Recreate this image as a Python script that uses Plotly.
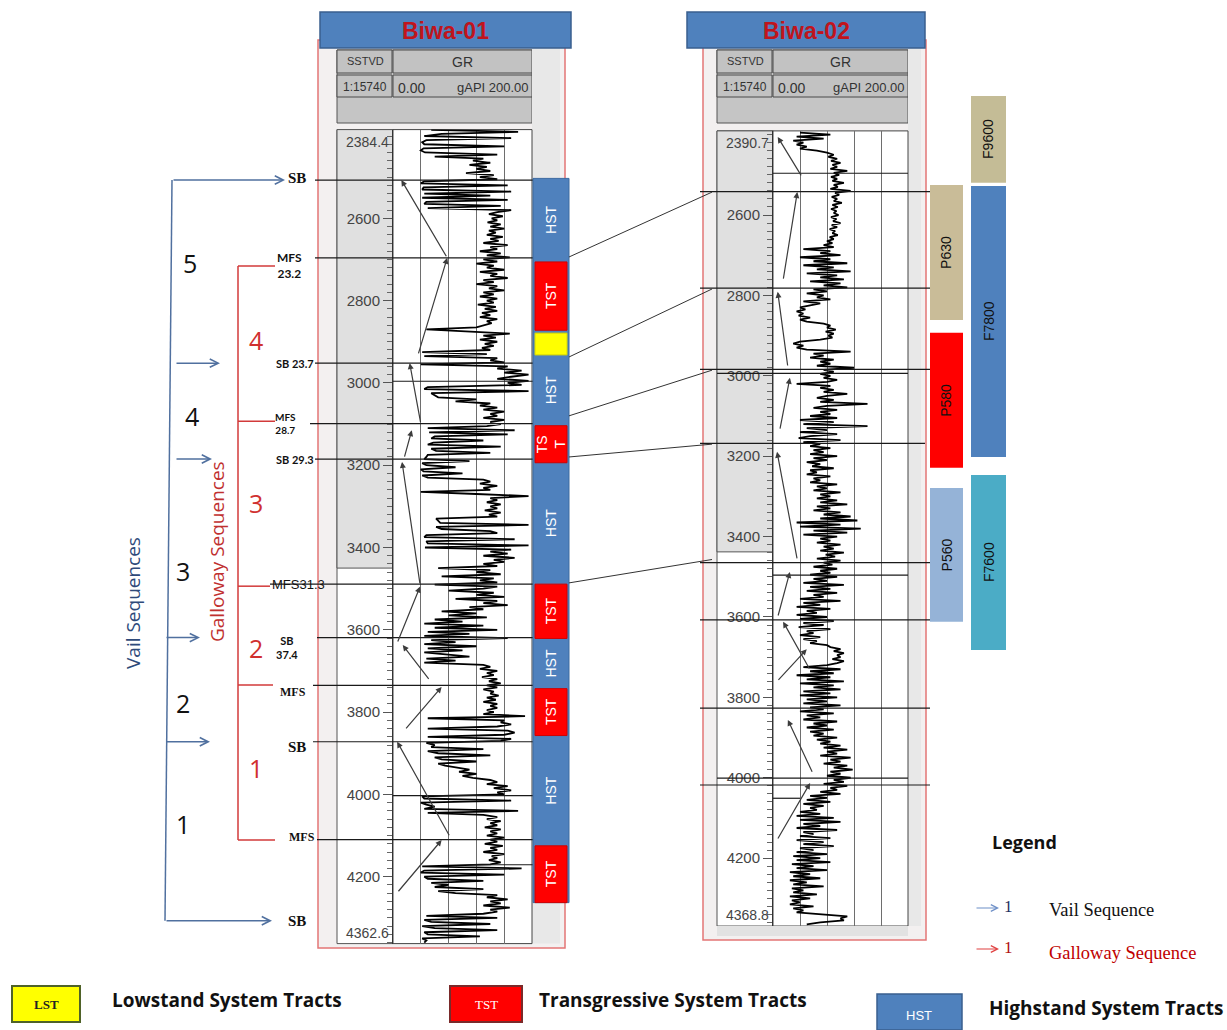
import plotly.graph_objects as go

W, H = 1227, 1030

# ---------------- data ----------------
w1_top, w1_base = 2384.4, 4362.6
w2_top, w2_base = 2390.7, 4368.8
depth_ticks = [2600, 2800, 3000, 3200, 3400, 3600, 3800, 4000, 4200]
minor_ticks = list(range(2400, 4361, 20))

gr1_depth = list(range(2385, 4361, 5))
gr1 = [55, 180, 70, 45, 170, 48, 42, 45, 160, 44, 40, 46, 150, 60, 130, 115, 140, 110, 135, 120,
       140, 105, 145, 125, 150, 45, 40, 165, 44, 42, 170, 45, 140, 42, 165, 48, 45, 155, 50, 170,
       150, 138, 158, 142, 150, 136, 155, 140, 160, 138, 148, 135, 158, 140, 152, 130, 165, 140, 150, 125,
       155, 135, 168, 130, 150, 120, 145, 135, 160, 125, 150, 140, 165, 130, 145, 120, 150, 138, 160, 130,
       145, 125, 150, 135, 145, 122, 148, 132, 150, 128, 140, 125, 150, 135, 142, 130, 120, 48, 100, 168,
       130, 148, 125, 150, 132, 145, 128, 140, 42, 135, 45, 150, 140, 160, 40, 165, 150, 185, 160, 195,
       170, 150, 195, 165, 185, 50, 45, 195, 55, 60, 65, 120, 90, 140, 125, 150, 130, 160, 140, 150,
       130, 160, 140, 155, 135, 50, 175, 52, 165, 60, 55, 130, 58, 50, 155, 55, 62, 140, 50, 48,
       45, 110, 42, 48, 90, 40, 44, 100, 42, 50, 130, 140, 125, 150, 130, 140, 40, 120, 195, 140,
       150, 135, 155, 140, 150, 132, 155, 138, 150, 62, 65, 68, 195, 62, 70, 140, 150, 48, 45, 175,
       48, 50, 195, 46, 170, 140, 165, 130, 175, 145, 160, 130, 150, 65, 140, 120, 155, 70, 145, 125,
       150, 60, 150, 130, 80, 145, 120, 160, 90, 150, 130, 165, 110, 130, 70, 120, 80, 135, 60, 100,
       45, 130, 60, 150, 50, 110, 45, 165, 55, 90, 45, 120, 50, 100, 45, 80, 110, 48, 90, 45,
       130, 140, 125, 150, 135, 145, 128, 150, 138, 155, 135, 150, 130, 145, 140, 152, 135, 148, 130, 150,
       140, 150, 135, 145, 130, 190, 50, 160, 155, 170, 150, 50, 165, 175, 160, 50, 170, 155, 48, 60,
       55, 130, 50, 65, 140, 60, 70, 120, 65, 75, 90, 110, 95, 120, 100, 115, 140, 150, 135, 165,
       145, 170, 150, 160, 42, 45, 170, 40, 48, 60, 45, 180, 50, 130, 150, 135, 155, 140, 150, 132,
       155, 140, 150, 135, 160, 140, 150, 132, 158, 140, 150, 130, 160, 142, 150, 138, 155, 140, 42, 185,
       45, 40, 160, 45, 50, 130, 55, 80, 60, 130, 65, 90, 150, 135, 165, 140, 155, 130, 168, 140,
       150, 130, 48, 150, 45, 55, 140, 42, 60, 150, 45, 50, 125, 42, 48, 45]

gr2_depth = list(range(2395, 4366, 5))
gr2 = [40, 85, 35, 75, 30, 45, 35, 50, 40, 65, 80, 90, 82, 95, 86, 100, 88, 95, 85, 110,
       90, 98, 86, 95, 88, 105, 90, 96, 85, 115, 92, 98, 87, 95, 90, 102, 88, 96, 86, 94,
       90, 97, 86, 94, 89, 100, 87, 95, 84, 92, 88, 96, 84, 90, 80, 88, 75, 90, 45, 85,
       70, 100, 40, 85, 60, 110, 45, 90, 65, 115, 50, 95, 70, 105, 55, 100, 75, 110, 60, 80,
       50, 75, 65, 85, 45, 70, 55, 40, 48, 35, 45, 38, 55, 40, 50, 75, 85, 80, 93, 78,
       90, 82, 88, 70, 40, 30, 45, 35, 50, 115, 60, 75, 55, 90, 70, 85, 65, 120, 75, 90,
       70, 85, 75, 95, 80, 35, 85, 70, 90, 75, 110, 80, 65, 90, 70, 140, 80, 60, 95, 70,
       85, 55, 95, 40, 90, 45, 140, 50, 80, 40, 95, 55, 38, 100, 45, 70, 55, 85, 60, 75,
       55, 95, 60, 80, 50, 70, 58, 90, 55, 65, 50, 85, 60, 70, 55, 95, 65, 80, 60, 100,
       70, 85, 65, 95, 70, 110, 65, 85, 60, 100, 75, 115, 70, 125, 35, 100, 40, 130, 60, 110,
       45, 95, 70, 85, 65, 100, 75, 90, 70, 105, 78, 92, 65, 100, 75, 88, 60, 95, 70, 85,
       55, 95, 60, 80, 45, 105, 55, 85, 50, 95, 60, 75, 40, 100, 45, 70, 35, 85, 50, 65,
       35, 80, 40, 90, 45, 75, 38, 85, 50, 60, 40, 70, 45, 65, 55, 80, 85, 100, 90, 105,
       95, 100, 88, 105, 95, 80, 45, 100, 55, 90, 35, 85, 50, 105, 40, 90, 60, 100, 45, 85,
       40, 95, 50, 80, 45, 100, 55, 75, 40, 90, 50, 70, 45, 95, 60, 80, 50, 90, 55, 75,
       60, 95, 65, 85, 70, 100, 75, 110, 80, 95, 70, 115, 85, 100, 75, 110, 90, 118, 85, 100,
       80, 115, 90, 105, 75, 110, 85, 95, 70, 100, 55, 80, 50, 85, 45, 75, 55, 65, 40, 70,
       35, 90, 40, 100, 45, 70, 35, 95, 45, 60, 40, 85, 35, 75, 45, 90, 40, 60, 35, 80,
       30, 70, 35, 85, 28, 60, 35, 80, 25, 55, 30, 70, 25, 50, 30, 75, 28, 45, 30, 65,
       25, 55, 28, 40, 25, 60, 30, 45, 35, 80, 110, 100, 105, 70, 50]

# Biwa-01 surfaces (depth) and left-side labels
w1_surf = [2507, 2696, 2952, 2996, 3099, 3185, 3489, 3619, 3735, 3872, 4003, 4110, 4171]
w1_grey_base = 3450
surf_labels = ["SB", "MFS<br>23.2", "SB 23.7", "MFS<br>28.7", "SB 29.3", "MFS31.3",
               "SB<br>37.4", "MFS", "SB", "MFS", "SB"]
surf_label_depth = [2507, 2696, 2952, 3099, 3185, 3489, 3619, 3735, 3872, 4110, 4307]

# Biwa-02 surfaces
w2_surf = [2496, 2542, 2782, 2984, 2994, 3168, 3465, 3496, 3607, 3827, 4001, 4018, 4051]
w2_grey_base = 3438

# Vail / Galloway sequences (Biwa-01 depths)
vail_numbers = ["5", "4", "3", "2", "1"]
vail_number_depth = [2709, 3081, 3457, 3778, 4072]
vail_top, vail_base = 2507, 4307
vail_arrow_depth = [2952, 3185, 3619, 3872]
gal_numbers = ["4", "3", "2", "1"]
gal_number_depth = [2896, 3292, 3644, 3936]
gal_bounds = [2716, 3093, 3494, 3734, 4111]

# Systems tracts, Biwa-01
hst_top, hst_base = 2503, 4263
tst_top = [2706, 3104, 3489, 3743, 4125]
tst_base = [2872, 3194, 3621, 3857, 4263]
tst_text = ["TST", "TS<br>T", "TST", "TST", "TST"]
lst_top, lst_base = [2879], [2932]
hst_label_depth = [2604, 3018, 3341, 3682, 3991]

# correlation lines (Biwa-01 depth -> Biwa-02 depth)
corr_w1 = [2694, 2937, 3080, 3180, 3486]
corr_w2 = [2543, 2784, 2986, 3170, 3457]

# formations (Biwa-02 depth scale)
form_names = ["F9600", "F7800", "F7600", "P630", "P580", "P560"]
form_top = [2304, 2528, 3247, 2525, 2893, 3279]
form_base = [2520, 3202, 3682, 2861, 3229, 3612]

# trend arrows: (tail GR, tail depth, head GR, head depth)
w1_trend = [(78, 2696, 12, 2507), (36, 2932, 78, 2696), (40, 3099, 24, 2952),
            (16, 3183, 27, 3115), (39, 3491, 13, 3192), (6, 3632, 39, 3495),
            (53, 3723, 14, 3637), (17, 3843, 70, 3739), (82, 4103, 6, 3872),
            (6, 4239, 70, 4111)]
w2_trend = [(43, 2505, 7, 2406), (15, 2762, 36, 2543), (22, 2978, 7, 2791),
            (10, 3135, 25, 3005), (36, 3458, 6, 3189), (7, 3600, 25, 3488),
            (55, 3732, 15, 3612), (6, 3760, 50, 3680), (59, 3989, 22, 3856),
            (6, 4155, 55, 4013)]

# ---------------- geometry helpers ----------------
def X(px): return px / W
def Y(py): return 1 - py / H

W1_PY = (129.6, 943.6)
W2_PY = (130.9, 926.0)

def py1(d):
    return W1_PY[0] + (d - w1_top) / (w1_base - w1_top) * (W1_PY[1] - W1_PY[0])

def py2(d):
    return W2_PY[0] + (d - w2_top) / (w2_base - w2_top) * (W2_PY[1] - W2_PY[0])

shapes = []
annos = []

def rect(x0, y0, x1, y1, fill, line="rgba(0,0,0,0)", lw=0, layer="below"):
    shapes.append(dict(type="rect", xref="paper", yref="paper", x0=X(x0), x1=X(x1),
                       y0=Y(y0), y1=Y(y1), fillcolor=fill,
                       line=dict(color=line, width=lw), layer=layer))

def seg(x0, y0, x1, y1, color="#222", lw=1, layer="above"):
    shapes.append(dict(type="line", xref="paper", yref="paper", x0=X(x0), x1=X(x1),
                       y0=Y(y0), y1=Y(y1), line=dict(color=color, width=lw), layer=layer))

def txt(px, py, s, size=13, color="#000", family="Liberation Sans", xa="center",
        ya="middle", angle=0):
    annos.append(dict(x=X(px), y=Y(py), xref="paper", yref="paper", text=s,
                      showarrow=False, xanchor=xa, yanchor=ya, textangle=angle,
                      font=dict(size=size, color=color, family=family)))

def parrow(x_tail, y_tail, x_head, y_head, color, lw=1.5, head=5):
    annos.append(dict(x=X(x_head), y=Y(y_head), xref="paper", yref="paper", text="",
                      showarrow=True, axref="pixel", ayref="pixel",
                      ax=x_tail - x_head, ay=y_tail - y_head, arrowhead=head,
                      arrowsize=1.1, arrowwidth=lw, arrowcolor=color))

# ---------------- well panels ----------------
def well_panel(px0, px1, title_x0, title_x1, border_bottom, dep_x0, gr_x0, gr_x1,
               top_py, bot_py, grey_py, title, top_lbl, bot_lbl):
    rect(px0, 40, px1, border_bottom, "#f3f0f0", "#e47575", 1.5)
    rect(dep_x0, 50, gr_x1, 123, "#c5c5c5", "#555", 1)
    rect(dep_x0, 50, gr_x0 - 1, 73, "#c2c2c2", "#4a4a4a", 1)
    rect(dep_x0, 75, gr_x0 - 1, 97, "#c2c2c2", "#4a4a4a", 1)
    rect(gr_x0, 50, gr_x1, 73, "#c2c2c2", "#4a4a4a", 1)
    rect(gr_x0, 75, gr_x1, 97, "#c2c2c2", "#4a4a4a", 1)
    rect(gr_x1, 47, px1 - 5, bot_py, "#e8e8e8")
    rect(dep_x0, top_py, gr_x0, bot_py, "#ffffff", "#555", 1)
    rect(dep_x0, top_py, gr_x0, grey_py, "#e0e0e0", "#555", 1)
    rect(gr_x0, top_py, gr_x1, bot_py, "#ffffff", "#444", 1)
    rect(title_x0, 12, title_x1, 48, "#4f81bd", "#3a5f8f", 1.5, layer="above")
    txt((title_x0 + title_x1) / 2, 31, "<b>" + title + "</b>", 23, "#c0141c", "Liberation Sans")
    cx = (dep_x0 + gr_x0) / 2
    txt(cx, 61, "SSTVD", 11, "#333")
    txt(cx, 87, "1:15740", 12, "#333")
    txt((gr_x0 + gr_x1) / 2, 62, "GR", 14, "#333")
    txt(gr_x0 + 3, 88, "0.00", 14, "#333", xa="left")
    txt(gr_x1 - 1, 88, "gAPI 200.00", 13, "#333", xa="right")
    txt(gr_x0 - 2, top_py + 2, top_lbl, 14, "#444", xa="right", ya="top")
    txt(gr_x0 - 2, bot_py - 1, bot_lbl, 14, "#444", xa="right", ya="bottom")

well_panel(318, 565, 320, 571, 948, 337, 393, 532, W1_PY[0], W1_PY[1],
           py1(w1_grey_base), "Biwa-01", f"{w1_top}", f"{w1_base}")
well_panel(703, 926, 687, 925, 940, 717, 773, 908, W2_PY[0], W2_PY[1],
           py2(w2_grey_base), "Biwa-02", f"{w2_top}", f"{w2_base}")
rect(717, 926, 908, 936, "#e2e2e2")

# surfaces Biwa-01
w1_x0 = [315, 315, 315, 393, 310, 315, 270, 317, 313, 313, 393, 317, 470]
for d, x0 in zip(w1_surf, w1_x0):
    seg(x0, py1(d), 533, py1(d), "#1a1a1a", 1.2)
# surfaces Biwa-02
w2_x = [(773, 908), (700, 930), (700, 930), (700, 930), (717, 908), (700, 925),
        (700, 930), (773, 908), (700, 930), (700, 930), (717, 908), (700, 930), (773, 800)]
for d, (x0, x1) in zip(w2_surf, w2_x):
    seg(x0, py2(d), x1, py2(d), "#1a1a1a", 1.2)

# systems tracts column
rect(533, py1(hst_top), 569, py1(hst_base), "#4f81bd", "#3d6aa0", 1, layer="above")
for t, b, s in zip(tst_top, tst_base, tst_text):
    rect(535, py1(t), 567, py1(b), "#ff0000", "#d00000", 1, layer="above")
    txt(551, (py1(t) + py1(b)) / 2, s, 14, "#ffffff", angle=-90)
for t, b in zip(lst_top, lst_base):
    rect(535, py1(t), 567, py1(b), "#ffff00", "#d8d800", 1, layer="above")
for d in hst_label_depth:
    txt(551, py1(d), "HST", 14, "#ffffff", angle=-90)

# correlation lines
for a, b in zip(corr_w1, corr_w2):
    seg(569, py1(a), 712, py2(b), "#333", 1)

# formation columns
form_x = {"F": (971, 1006), "P": (930, 963)}
form_col = ["#c4bc96", "#4f81bd", "#4bacc6", "#c9bc98", "#ff0000", "#95b3d7"]
for n, t, b, c in zip(form_names, form_top, form_base, form_col):
    x0, x1 = form_x[n[0]]
    rect(x0, py2(t), x1, py2(b), c, layer="above")
    txt((x0 + x1) / 2, (py2(t) + py2(b)) / 2, n, 14, "#111", angle=-90)

# ---------------- left-side sequence annotations ----------------
VC = "#50709f"
seg(172, py1(vail_top), 165, py1(vail_base), VC, 1.5)
parrow(172, py1(vail_top), 285, py1(vail_top), VC)
parrow(165, py1(vail_base), 272, py1(vail_base), VC)
for d, (x0, x1) in zip(vail_arrow_depth, [(175, 220), (175, 212), (165, 200), (165, 210)]):
    parrow(x0, py1(d), x1, py1(d), VC)
for n, d, x in zip(vail_numbers, vail_number_depth, [190, 192, 183, 183, 183]):
    txt(x, py1(d), n, 25, "#111", "Open Sans")
txt(133, 603, "Vail Sequences", 19, "#2e4a7a", "Open Sans", angle=-90)

GC = "#d23a3a"
seg(238, py1(gal_bounds[0]), 238, py1(gal_bounds[-1]), GC, 1.5)
for d, x1 in zip(gal_bounds, [275, 275, 270, 273, 275]):
    seg(238, py1(d), x1, py1(d), GC, 1.5)
for n, d in zip(gal_numbers, gal_number_depth):
    txt(256, py1(d), n, 25, "#d0302f", "Open Sans")
txt(217, 552, "Galloway Sequences", 19, "#c0302f", "Open Sans", angle=-90)

lbl_style = [(297, 2, 15, "Liberation Serif"), (289, -8, 12, "Lato"), (295, 0, 11, "Lato"),
             (285, 0, 10, "Lato"), (295, 0, 11, "Lato"), (298, 0, 13, "Liberation Sans"),
             (287, -10, 11, "Lato"), (293, -7, 12, "Liberation Serif"),
             (297, -5, 15, "Liberation Serif"), (302, 3, 12, "Liberation Serif"),
             (297, 0, 15, "Liberation Serif")]
for s, d, (x, dy, sz, fam) in zip(surf_labels, surf_label_depth, lbl_style):
    body = s if s == "MFS31.3" else "<b>" + s + "</b>"
    txt(x, py1(d) - dy, body, sz, "#111", fam)

# ---------------- trend arrows ----------------
for tx, td, hx, hd in w1_trend:
    annos.append(dict(x=hx, y=hd, xref="x", yref="y", ax=tx, ay=td, axref="x", ayref="y",
                      text="", showarrow=True, arrowhead=2, arrowsize=1, arrowwidth=1.2,
                      arrowcolor="#3c3c3c"))
for tx, td, hx, hd in w2_trend:
    annos.append(dict(x=hx, y=hd, xref="x2", yref="y2", ax=tx, ay=td, axref="x2", ayref="y2",
                      text="", showarrow=True, arrowhead=2, arrowsize=1, arrowwidth=1.2,
                      arrowcolor="#3c3c3c"))

# ---------------- legends ----------------
rect(12, 986, 80, 1022, "#ffff00", "#4f6228", 2, layer="above")
txt(46, 1004, "<b>LST</b>", 13, "#222", "Liberation Serif")
txt(110, 1000, "<b>Lowstand System Tracts</b>", 19, "#111", "Open Sans", xa="left")
rect(450, 986, 522, 1022, "#ff0000", "#7a2a2a", 2, layer="above")
txt(486, 1004, "TST", 13, "#ffffff", "Liberation Serif")
txt(537, 1000, "<b>Transgressive System Tracts</b>", 19, "#111", "Open Sans", xa="left")
rect(877, 994, 962, 1030, "#4f81bd", "#3a5f8f", 1.5, layer="above")
txt(919, 1015, "HST", 13, "#ffffff", "Liberation Sans")
txt(987, 1008, "<b>Highstand System Tracts</b>", 19, "#111", "Open Sans", xa="left")

txt(990, 842, "<b>Legend</b>", 18, "#111", "Open Sans", xa="left")
parrow(975, 908, 999, 908, "#6d8fc7", 1.2)
txt(1002, 906, "1", 17, "#1f2f5f", "Liberation Serif", xa="left")
txt(1047, 910, "Vail Sequence", 18.5, "#111", "Liberation Serif", xa="left")
parrow(975, 949, 999, 949, "#e04040", 1.2)
txt(1002, 947, "1", 17, "#b01010", "Liberation Serif", xa="left")
txt(1047, 953, "Galloway Sequence", 18.5, "#c00000", "Liberation Serif", xa="left")

# ---------------- figure ----------------
fig = go.Figure()
fig.add_trace(go.Scatter(x=gr1, y=gr1_depth, mode="lines", line=dict(color="black", width=1.8),
                         xaxis="x", yaxis="y", showlegend=False, hoverinfo="skip"))
fig.add_trace(go.Scatter(x=gr2, y=gr2_depth, mode="lines", line=dict(color="black", width=1.8),
                         xaxis="x2", yaxis="y2", showlegend=False, hoverinfo="skip"))

def gr_x(dom, anchor):
    return dict(domain=dom, range=[0, 200], anchor=anchor, showgrid=True, gridcolor="#6e6e6e",
                gridwidth=1, dtick=40, tick0=0, showticklabels=False, ticks="",
                zeroline=False, showline=False, fixedrange=True)

def dep_y(dom, rng, anchor):
    return dict(domain=dom, range=rng, anchor=anchor, side="left", showgrid=False,
                zeroline=False, showline=True, linecolor="#333", linewidth=1,
                ticks="outside", ticklen=9, tickwidth=1, tickcolor="#555",
                tickmode="array", tickvals=depth_ticks, ticktext=[str(v) for v in depth_ticks],
                tickfont=dict(family="Liberation Sans", size=15, color="#444"),
                minor=dict(tickmode="array", tickvals=minor_ticks, ticks="outside",
                           ticklen=5, tickcolor="#666", showgrid=False),
                fixedrange=True)

fig.update_layout(
    width=W, height=H, margin=dict(l=0, r=0, t=0, b=0),
    paper_bgcolor="white", plot_bgcolor="rgba(0,0,0,0)",
    xaxis=gr_x([X(393), X(532)], "y"),
    yaxis=dep_y([Y(W1_PY[1]), Y(W1_PY[0])], [w1_base, w1_top], "x"),
    xaxis2=gr_x([X(773), X(908)], "y2"),
    yaxis2=dep_y([Y(W2_PY[1]), Y(W2_PY[0])], [w2_base, w2_top], "x2"),
    shapes=shapes, annotations=annos, showlegend=False,
)
fig.write_html("out.html", config={"displayModeBar": False},
               post_script="document.body.style.margin='0px';document.body.style.overflow='hidden';")
